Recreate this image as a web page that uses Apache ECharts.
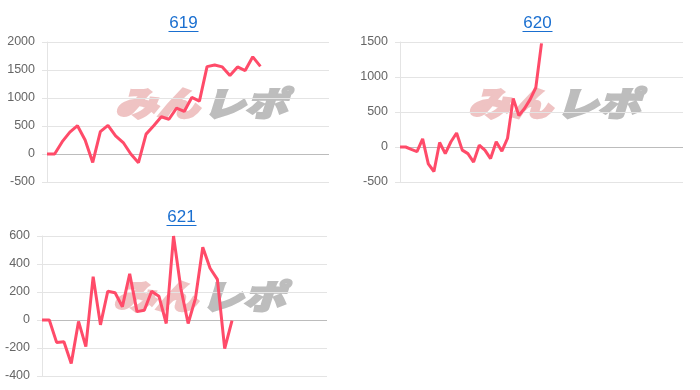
<!DOCTYPE html>
<html>
<head>
<meta charset="utf-8">
<script src="https://cdn.jsdelivr.net/npm/echarts@6/dist/echarts.min.js"></script>
<style>
html,body{margin:0;padding:0;background:#fff;}
#c{width:700px;height:390px;}
</style>
</head>
<body>
<div id="c"></div>
<script>
// ---- data ----
const titles = ['619', '620', '621'];
const values619 = [0, 0, 220, 390, 505, 250, -150, 400, 510, 325, 205, 0, -155, 355, 505, 665, 620, 820, 760, 1010, 945, 1560, 1590, 1555, 1400, 1555, 1490, 1735, 1565];
const values620 = [0, 0, -35, -65, 115, -240, -350, 65, -95, 75, 200, -45, -95, -215, 25, -45, -165, 75, -60, 125, 695, 450, 550, 680, 850, 1480];
const values621 = [0, 0, -160, -155, -310, -10, -190, 310, -35, 205, 195, 95, 330, 60, 70, 205, 170, -25, 600, 225, -25, 155, 520, 370, 290, -205, -5];
const categories619 = Array.from({length: 38}, (_, i) => String(i + 1));
const categories620 = Array.from({length: 51}, (_, i) => String(i + 1));
const categories621 = Array.from({length: 40}, (_, i) => String(i + 1));
const yTicks619 = [-500, 0, 500, 1000, 1500, 2000];
const yTicks620 = [-500, 0, 500, 1000, 1500];
const yTicks621 = [-400, -200, 0, 200, 400, 600];

// ---- layout / style ----
const FONT = '"Liberation Sans", Arial, Helvetica, sans-serif';
const GRID_C = '#e4e4e4';
const ZERO_C = '#bcbcbc';
const LINE_C = '#ff4b69';
const TITLE_C = '#1a6fd0';

const panels = [
  {grid: {left: 47, top: 42, width: 282, height: 140}, cats: categories619, vals: values619, ticks: yTicks619, title: titles[0], tx: 183.5, ty: 15, wx: 201, wy: 103},
  {grid: {left: 400, top: 42, width: 283, height: 140}, cats: categories620, vals: values620, ticks: yTicks620, title: titles[1], tx: 537.5, ty: 15, wx: 554, wy: 103},
  {grid: {left: 42, top: 236, width: 285, height: 140}, cats: categories621, vals: values621, ticks: yTicks621, title: titles[2], tx: 181.5, ty: 209, wx: 199, wy: 296}
];

const option = {
  animation: false,
  backgroundColor: '#fff',
  title: [], grid: [], xAxis: [], yAxis: [], series: [], graphic: []
};

panels.forEach((p, i) => {
  option.title.push({
    text: p.title, left: p.tx, top: p.ty, textAlign: 'center', padding: 0,
    textStyle: {color: TITLE_C, fontSize: 17, fontWeight: 'normal', fontFamily: FONT}
  });
  option.grid.push(Object.assign({containLabel: false}, p.grid));
  option.xAxis.push({
    type: 'category', gridIndex: i, data: p.cats, boundaryGap: false,
    axisLine: {show: false}, axisTick: {show: false}, axisLabel: {show: false}, splitLine: {show: false}
  });
  const zeroIdx = p.ticks.indexOf(0);
  option.yAxis.push({
    type: 'value', gridIndex: i,
    min: p.ticks[0], max: p.ticks[p.ticks.length - 1], interval: p.ticks[1] - p.ticks[0],
    axisLine: {show: true, lineStyle: {color: GRID_C, width: 1}},
    axisTick: {show: true, length: 5, lineStyle: {color: GRID_C}},
    axisLabel: {color: '#666', fontSize: 12.5, fontFamily: FONT, margin: 12, formatter: v => String(v)},
    splitLine: {show: true, lineStyle: {width: 1, color: p.ticks.map((t, k) => k === zeroIdx ? ZERO_C : GRID_C)}}
  });
  option.series.push({
    type: 'line', xAxisIndex: i, yAxisIndex: i, data: p.vals,
    symbol: 'none', showSymbol: false, smooth: false, z: 5,
    lineStyle: {color: LINE_C, width: 3}
  });
  // title underline
  option.graphic.push({
    type: 'rect', z: 10,
    shape: {x: p.tx - 15, y: p.ty + 16, width: 30, height: 1},
    style: {fill: TITLE_C}
  });
  // watermark
  option.graphic.push({
    type: 'text', z: 0, x: p.wx - 2, y: p.wy, scaleY: 0.8,
    style: {text: 'みん', x: 0, y: 0, align: 'right', verticalAlign: 'middle',
      font: 'italic 900 42px "Noto Sans CJK JP"', fill: '#efc3c3', stroke: '#efc3c3', lineWidth: 3}
  });
  option.graphic.push({
    type: 'text', z: 0, x: p.wx + 2, y: p.wy, scaleY: 0.8,
    style: {text: 'レポ', x: 0, y: 0, align: 'left', verticalAlign: 'middle',
      font: 'italic 900 42px "Noto Sans CJK JP"', fill: '#bdbdbd', stroke: '#bdbdbd', lineWidth: 3}
  });
});

const chart = echarts.init(document.getElementById('c'), null, {renderer: 'canvas'});
chart.setOption(option);
</script>
</body>
</html>
